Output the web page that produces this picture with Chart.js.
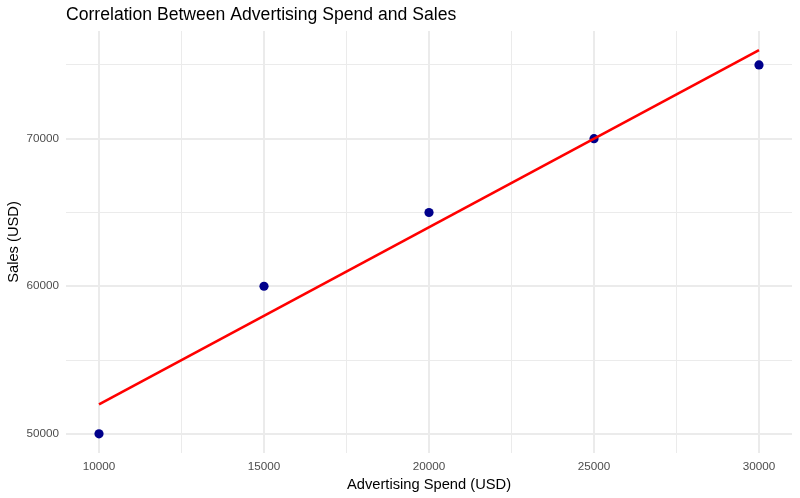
<!DOCTYPE html>
<html>
<head>
<meta charset="utf-8">
<script src="https://cdn.jsdelivr.net/npm/chart.js@4.4.0/dist/chart.umd.min.js"></script>
<style>
html,body{margin:0;padding:0;background:#fff;}
#wrap{width:800px;height:498px;position:relative;}
</style>
</head>
<body>
<div id="wrap"><canvas id="c" width="800" height="498"></canvas></div>
<script>
const chartTitle = "Correlation Between Advertising Spend and Sales";
const xTitle = "Advertising Spend (USD)";
const yTitle = "Sales (USD)";
const adSpend = [10000, 15000, 20000, 25000, 30000];
const sales = [50000, 60000, 65000, 70000, 75000];
const fitX = [10000, 30000];
const fitY = [52000, 76000];
const xTicks = [10000, 12500, 15000, 17500, 20000, 22500, 25000, 27500, 30000];
const xLabels = [10000, 15000, 20000, 25000, 30000];
const yTicks = [50000, 55000, 60000, 65000, 70000, 75000];
const yLabels = [50000, 60000, 70000];

const FONT = "'Liberation Sans', Arial, sans-serif";

const titlePlugin = {
  id: 'ggTitle',
  afterDraw(chart) {
    const ctx = chart.ctx;
    ctx.save();
    ctx.font = "17.6px " + FONT;
    ctx.fillStyle = "#000";
    ctx.textBaseline = "middle";
    ctx.textAlign = "left";
    ctx.fillText(chartTitle, chart.chartArea.left, 15.5);
    ctx.restore();
  }
};

const gridColor = "#ebebeb";

new Chart(document.getElementById('c'), {
  type: 'scatter',
  data: {
    datasets: [
      {
        type: 'line',
        data: fitX.map((x, i) => ({x: x, y: fitY[i]})),
        borderColor: '#ff0000',
        borderWidth: 2.6,
        pointRadius: 0,
        fill: false,
        tension: 0,
        order: 0
      },
      {
        data: adSpend.map((x, i) => ({x: x, y: sales[i]})),
        backgroundColor: '#00008b',
        borderColor: '#00008b',
        pointRadius: 4.6,
        pointHoverRadius: 4.6,
        borderWidth: 0,
        order: 1
      }
    ]
  },
  options: {
    responsive: false,
    animation: false,
    devicePixelRatio: 1,
    layout: { padding: { left: 0, right: 8, top: 31, bottom: 0 } },
    plugins: {
      legend: { display: false },
      tooltip: { enabled: false },
      title: { display: false }
    },
    scales: {
      x: {
        type: 'linear',
        min: 9000,
        max: 31000,
        afterBuildTicks(scale) { scale.ticks = xTicks.map(v => ({value: v})); },
        afterFit(scale) { scale.height = 45; },
        border: { display: false },
        grid: {
          drawTicks: false,
          color: gridColor,
          lineWidth: ctx => (ctx.tick && xLabels.includes(ctx.tick.value)) ? 2 : 1
        },
        ticks: {
          padding: 7,
          color: '#4d4d4d',
          font: { family: FONT, size: 11.7 },
          autoSkip: false,
          maxRotation: 0,
          callback: v => xLabels.includes(v) ? String(v) : ''
        },
        title: {
          display: true,
          text: xTitle,
          color: '#000',
          font: { family: FONT, size: 14.7 },
          padding: { top: 2, bottom: 4 }
        }
      },
      y: {
        type: 'linear',
        min: 48700,
        max: 77300,
        afterBuildTicks(scale) { scale.ticks = yTicks.map(v => ({value: v})); },
        afterFit(scale) { scale.width = 66; },
        border: { display: false },
        grid: {
          drawTicks: false,
          color: gridColor,
          lineWidth: ctx => (ctx.tick && yLabels.includes(ctx.tick.value)) ? 2 : 1
        },
        ticks: {
          padding: 7,
          color: '#4d4d4d',
          font: { family: FONT, size: 11.7 },
          autoSkip: false,
          callback: v => yLabels.includes(v) ? String(v) : ''
        },
        title: {
          display: true,
          text: yTitle,
          color: '#000',
          font: { family: FONT, size: 14.7 },
          padding: { top: 5, bottom: 0 }
        }
      }
    }
  },
  plugins: [titlePlugin]
});
</script>
</body>
</html>
